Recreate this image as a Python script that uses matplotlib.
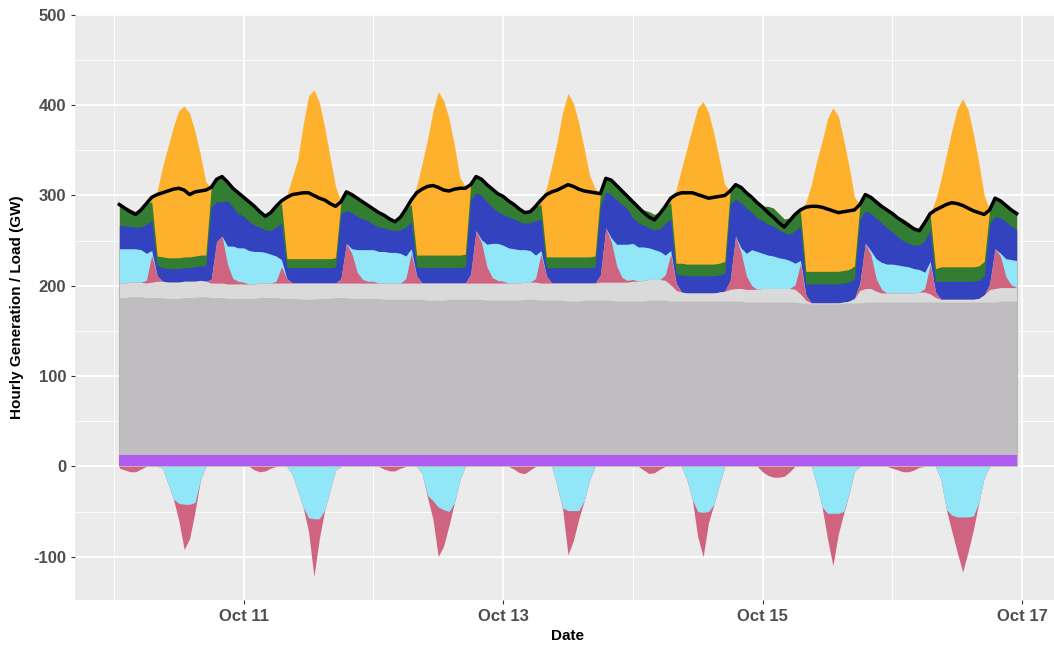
import numpy as np
import pandas as pd
import matplotlib
matplotlib.use("Agg")
import matplotlib.pyplot as plt
import matplotlib.dates as mdates

plt.rcParams["axes.unicode_minus"] = False

# hourly values in GW, one row per day (Oct 10 .. Oct 16), hours 0..23
# the series starts at Oct 10 01:00, so the first value is dropped below
purple = [
    13, 13, 13, 13, 13, 13, 13, 13, 13, 13, 13, 13, 13, 13, 13, 13, 13, 13, 13, 13, 13, 13, 13, 13,
    13, 13, 13, 13, 13, 13, 13, 13, 13, 13, 13, 13, 13, 13, 13, 13, 13, 13, 13, 13, 13, 13, 13, 13,
    13, 13, 13, 13, 13, 13, 13, 13, 13, 13, 13, 13, 13, 13, 13, 13, 13, 13, 13, 13, 13, 13, 13, 13,
    13, 13, 13, 13, 13, 13, 13, 13, 13, 13, 13, 13, 13, 13, 13, 13, 13, 13, 13, 13, 13, 13, 13, 13,
    13, 13, 13, 13, 13, 13, 13, 13, 13, 13, 13, 13, 13, 13, 13, 13, 13, 13, 13, 13, 13, 13, 13, 13,
    13, 13, 13, 13, 13, 13, 13, 13, 13, 13, 13, 13, 13, 13, 13, 13, 13, 13, 13, 13, 13, 13, 13, 13,
    13, 13, 13, 13, 13, 13, 13, 13, 13, 13, 13, 13, 13, 13, 13, 13, 13, 13, 13, 13, 13, 13, 13, 13,
]
gray = [
    174, 174, 174, 175, 175, 175, 174, 174, 174, 174, 173, 173, 173, 174, 174, 174, 175, 175, 174, 174, 174, 173, 173, 173,
    173, 173, 173, 174, 174, 174, 174, 173, 173, 173, 173, 172, 172, 172, 173, 173, 173, 174, 174, 174, 173, 173, 173, 173,
    173, 173, 172, 172, 172, 172, 172, 172, 172, 172, 171, 171, 171, 171, 172, 172, 172, 172, 172, 172, 172, 171, 171, 171,
    171, 171, 171, 171, 172, 172, 172, 171, 171, 171, 171, 171, 170, 170, 170, 171, 171, 171, 171, 171, 171, 170, 170, 170,
    170, 170, 170, 171, 171, 171, 171, 170, 170, 170, 170, 170, 170, 170, 170, 170, 170, 170, 170, 170, 170, 169, 169, 169,
    169, 169, 169, 169, 169, 169, 169, 168, 168, 167, 167, 167, 167, 167, 167, 168, 168, 168, 168, 169, 169, 169, 169, 169,
    169, 169, 169, 169, 169, 169, 169, 169, 169, 169, 169, 169, 169, 169, 169, 169, 169, 169, 169, 169, 170, 170, 170, 170,
]
light_gray = [
    16, 16, 16, 16, 16, 16, 16, 17, 18, 18, 18, 18, 18, 18, 18, 18, 18, 17, 16, 16, 16, 16, 16, 16,
    16, 16, 16, 16, 16, 16, 16, 17, 17, 17, 17, 18, 18, 18, 17, 17, 17, 16, 16, 16, 17, 17, 17, 17,
    17, 17, 18, 18, 18, 18, 18, 18, 18, 18, 19, 19, 19, 19, 18, 18, 18, 18, 18, 18, 18, 19, 19, 19,
    19, 19, 19, 19, 19, 19, 19, 19, 19, 19, 19, 19, 20, 20, 20, 19, 19, 19, 20, 20, 20, 21, 21, 21,
    22, 22, 23, 23, 23, 23, 22, 18, 12, 10, 9, 9, 9, 9, 9, 9, 10, 11, 13, 14, 14, 14, 14, 14,
    15, 15, 15, 15, 15, 15, 14, 10, 3, 1, 1, 1, 1, 1, 1, 1, 2, 5, 14, 15, 15, 12, 10, 10,
    10, 10, 10, 10, 10, 11, 11, 9, 5, 3, 3, 3, 3, 3, 3, 3, 4, 8, 14, 15, 15, 15, 15, 15,
]
pink = [
    0, -2, -4, -6, -6, -3, 3, 30, 6, 0, 0, 0, -19, -50, -38, -10, 0, 0, 4, 46, 52, 22, 6, 3,
    2, 0, -4, -6, -5, -2, 2, 18, 5, 0, 0, 0, -15, -64, -22, 0, 0, 0, 5, 44, 33, 12, 4, 2,
    2, 0, -3, -5, -5, -2, 5, 33, 8, 0, -2, -20, -55, -40, -15, 0, 0, 0, 10, 58, 45, 18, 6, 3,
    2, 0, -3, -7, -8, -4, 4, 32, 8, 0, 0, -1, -49, -33, -9, 0, 0, 0, 8, 60, 45, 18, 5, 2,
    2, 0, -4, -8, -7, -3, 6, 34, 8, 0, 0, 0, -28, -49, -12, 0, 0, 0, 10, 58, 40, 15, 4, 0,
    -6, -10, -12, -12, -11, -6, 5, 33, 6, 0, 0, 0, -28, -58, -23, -2, 0, 0, 8, 50, 38, 14, 4, 0,
    -2, -4, -6, -6, -4, -1, 4, 33, 6, 0, 0, -18, -39, -61, -39, -15, 0, 0, 6, 44, 35, 12, 3, 0,
]
cyan = [
    38, 38, 38, 37, 37, 36, 30, 5, 0, -2, -19, -36, -41, -42, -42, -40, -15, 0, 0, 0, 0, 20, 36, 37,
    38, 37, 36, 35, 34, 32, 28, 8, 0, -9, -27, -45, -57, -58, -58, -48, -26, -4, 0, 0, 5, 25, 33, 35,
    35, 35, 35, 34, 34, 33, 25, 5, 0, -8, -32, -38, -45, -48, -50, -40, -15, 0, 0, 0, 3, 25, 38, 41,
    40, 39, 38, 37, 36, 35, 26, 4, 0, 0, -22, -46, -49, -49, -49, -38, -15, 0, 0, 0, 4, 24, 37, 40,
    40, 38, 37, 35, 33, 31, 22, 4, 0, 0, -15, -37, -50, -51, -50, -42, -20, 0, 0, 0, 5, 25, 40, 42,
    39, 37, 36, 34, 33, 31, 24, 4, 0, 0, -20, -45, -52, -52, -52, -50, -30, -5, 0, 0, 4, 22, 30, 32,
    32, 31, 30, 29, 27, 25, 18, 3, 0, -15, -48, -54, -56, -56, -56, -55, -40, -12, 0, 0, 3, 20, 28, 30,
]
blue = [
    30, 26, 25, 25, 24, 25, 32, 33, 12, 15, 15, 15, 15, 15, 15, 16, 16, 17, 80, 44, 38, 50, 43, 38,
    35, 32, 29, 27, 25, 26, 32, 40, 12, 17, 17, 17, 17, 17, 17, 17, 17, 18, 72, 36, 40, 37, 34, 32,
    28, 27, 26, 25, 24, 26, 32, 30, 10, 17, 17, 17, 17, 17, 17, 17, 17, 18, 82, 42, 49, 47, 40, 35,
    34, 34, 33, 31, 29, 31, 38, 35, 9, 17, 17, 17, 17, 17, 17, 17, 17, 18, 76, 40, 48, 49, 44, 39,
    28, 27, 24, 22, 22, 25, 35, 35, 10, 19, 19, 19, 19, 19, 19, 19, 19, 20, 84, 41, 50, 50, 41, 37,
    36, 34, 33, 31, 29, 29, 36, 38, 12, 21, 21, 21, 21, 21, 21, 21, 21, 22, 71, 36, 41, 45, 44, 40,
    36, 31, 28, 26, 26, 27, 35, 35, 12, 20, 20, 20, 20, 20, 20, 20, 20, 21, 66, 36, 39, 41, 37, 34,
]
green = [
    22, 24, 22, 19, 17, 19, 23, 21, 10, 12, 12, 12, 12, 12, 12, 12, 12, 12, 22, 25, 28, 21, 21, 23,
    21, 22, 21, 17, 15, 20, 23, 22, 10, 10, 10, 10, 10, 10, 10, 10, 10, 10, 13, 21, 20, 20, 19, 17,
    17, 16, 14, 12, 10, 14, 20, 19, 13, 14, 14, 14, 14, 14, 14, 14, 14, 14, 17, 18, 18, 19, 20, 20,
    20, 18, 16, 14, 12, 12, 16, 16, 12, 12, 12, 12, 12, 12, 12, 12, 12, 12, 14, 15, 16, 16, 15, 14,
    18, 17, 17, 18, 17, 19, 19, 18, 12, 13, 13, 13, 13, 13, 13, 13, 13, 13, 15, 16, 17, 17, 17, 17,
    16, 20, 20, 18, 15, 18, 18, 16, 14, 14, 14, 14, 14, 14, 14, 14, 14, 14, 16, 18, 18, 18, 20, 20,
    22, 23, 24, 23, 20, 17, 20, 16, 14, 16, 16, 16, 16, 16, 16, 16, 16, 16, 16, 20, 19, 18, 18, 18,
]
orange = [
    0, 0, 0, 0, 0, 0, 0, 5, 72, 100, 123, 145, 163, 167, 159, 138, 111, 81, 0, 0, 0, 0, 0, 0,
    0, 0, 0, 0, 0, 0, 0, 3, 70, 90, 110, 148, 180, 187, 173, 145, 112, 79, 0, 0, 0, 0, 0, 0,
    0, 0, 0, 0, 0, 0, 0, 5, 76, 101, 128, 159, 181, 171, 151, 121, 86, 75, 0, 0, 0, 0, 0, 0,
    0, 0, 0, 0, 0, 0, 0, 5, 76, 101, 128, 160, 181, 170, 148, 120, 90, 75, 0, 0, 0, 0, 0, 0,
    0, 0, 0, 0, 0, 0, 0, 5, 81, 105, 128, 151, 173, 180, 168, 144, 115, 85, 0, 0, 0, 0, 0, 0,
    0, 0, 0, 0, 0, 0, 0, 2, 76, 96, 122, 144, 169, 181, 172, 145, 114, 76, 0, 0, 0, 0, 0, 0,
    0, 0, 0, 0, 0, 0, 0, 2, 76, 97, 124, 151, 175, 186, 174, 147, 114, 73, 0, 0, 0, 0, 0, 0,
]
load = [
    295, 290, 286, 282, 279, 284, 291, 298, 301, 303, 305, 307, 308, 306, 301, 304, 305, 306, 309, 318, 321, 315, 308, 303,
    298, 293, 288, 282, 277, 281, 288, 294, 298, 301, 302, 303, 303, 300, 297, 295, 291, 288, 293, 304, 301, 297, 293, 289,
    285, 281, 278, 274, 271, 276, 285, 295, 303, 307, 310, 311, 309, 306, 305, 307, 308, 308, 312, 321, 318, 312, 307, 302,
    299, 294, 290, 285, 281, 282, 288, 295, 301, 304, 306, 309, 312, 310, 307, 305, 304, 303, 302, 319, 317, 311, 305, 299,
    293, 287, 281, 276, 273, 280, 288, 297, 301, 303, 303, 303, 301, 299, 297, 298, 299, 300, 305, 312, 309, 303, 298, 292,
    287, 281, 276, 270, 265, 272, 279, 284, 287, 288, 288, 287, 285, 283, 281, 282, 283, 284, 290, 301, 298, 293, 288, 284,
    280, 275, 271, 267, 263, 261, 270, 280, 284, 287, 290, 292, 291, 289, 286, 283, 281, 279, 284, 297, 294, 289, 284, 280,
]

x_ticks = ["2023-10-11", "2023-10-13", "2023-10-15", "2023-10-17"]
x_minor = ["2023-10-10", "2023-10-12", "2023-10-14", "2023-10-16"]

FONT = ["Liberation Sans", "DejaVu Sans"]


def main():
    hours = pd.date_range("2023-10-10 00:00", periods=168, freq="h")[1:]

    # positive stack, bottom to top
    pos_layers = [
        (purple, "#b05cf2"),
        (gray, "#bfbdbf"),
        (light_gray, "#dadadb"),
        (pink, "#d0637f"),
        (cyan, "#91e6f8"),
        (blue, "#3342bf"),
        (green, "#327d32"),
        (orange, "#fdb12c"),
    ]
    # negative stack, from zero downwards
    neg_layers = [
        (cyan, "#91e6f8"),
        (pink, "#d0637f"),
    ]

    fig = plt.figure(figsize=(10.54, 6.46), dpi=100)
    ax = fig.add_axes([75 / 1054, 46 / 646, 986 / 1054, 586 / 646])
    ax.set_facecolor("#ebebeb")
    ax.set_axisbelow(True)

    # draw cumulative areas from the top layer down so that there are no seams
    tops = np.cumsum([np.clip(np.array(v[1:], float), 0, None) for v, _ in pos_layers], axis=0)
    for (_, color), top in reversed(list(zip(pos_layers, tops))):
        ax.fill_between(hours, 0, top, color=color, lw=0, zorder=2)
    bottoms = np.cumsum([np.clip(np.array(v[1:], float), None, 0) for v, _ in neg_layers], axis=0)
    for (_, color), bottom in reversed(list(zip(neg_layers, bottoms))):
        ax.fill_between(hours, bottom, 0, color=color, lw=0, zorder=2)

    ax.plot(hours, load[1:], color="black", lw=2.5, zorder=3, solid_joinstyle="round")

    ax.set_ylim(-148, 501)
    ax.set_xlim(pd.Timestamp("2023-10-09 16:48"), pd.Timestamp("2023-10-17 07:12"))
    ax.set_yticks([-100, 0, 100, 200, 300, 400, 500])
    ax.set_yticks([-50, 50, 150, 250, 350, 450], minor=True)
    ax.set_xticks(pd.to_datetime(x_ticks))
    ax.set_xticks(pd.to_datetime(x_minor), minor=True)
    ax.xaxis.set_major_formatter(mdates.DateFormatter("%b %d"))

    ax.grid(which="major", color="white", lw=1.3)
    ax.grid(which="minor", color="white", lw=0.6)
    for spine in ax.spines.values():
        spine.set_visible(False)

    ax.tick_params(which="major", length=2.75, width=0.8, color="#333333", pad=3.5,
                   labelsize=12, labelcolor="#4d4d4d")
    ax.tick_params(which="minor", length=0)
    for lab in ax.get_xticklabels() + ax.get_yticklabels():
        lab.set_fontweight("bold")
        lab.set_family(FONT)

    ax.set_xlabel("Date", fontsize=11, fontweight="bold", family=FONT)
    ax.set_ylabel("Hourly Generation / Load (GW)", fontsize=11, fontweight="bold", family=FONT)
    ax.xaxis.set_label_coords(0.5, -0.050)
    ax.yaxis.set_label_coords(-0.052, 0.5)

    fig.savefig("out.png", dpi=100, facecolor="white")


if __name__ == "__main__":
    main()
